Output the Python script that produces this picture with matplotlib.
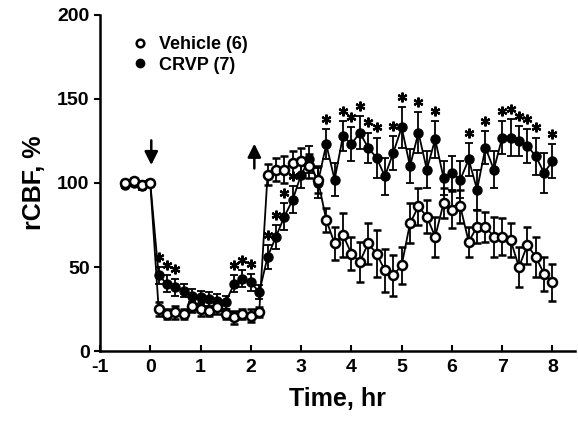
import numpy as np
import matplotlib.pyplot as plt
from matplotlib.lines import Line2D

plt.rcParams['font.family'] = ['Liberation Sans', 'DejaVu Sans']
plt.rcParams['font.weight'] = 'bold'
plt.rcParams['axes.unicode_minus'] = False

# time points, every 10 min from -0.5 to 8 hr
time = np.arange(-3, 49) / 6.0

vehicle = [100, 101, 99, 100,
           25, 22, 23, 22, 27, 25, 24, 26, 22, 20, 22, 21, 23,
           105, 108, 108, 112, 113, 110, 102, 78, 64, 69, 58, 53, 64, 58,
           48, 45, 51, 76, 86, 80, 68, 88, 84, 86, 65, 74, 74, 68, 68, 66,
           50, 63, 56, 46, 41]
vehicle_err = [2, 2, 2, 2,
               4, 3, 4, 3, 4, 4, 3, 4, 3, 4, 3, 4, 3,
               6, 7, 8, 7, 8, 7, 8,
               7, 10, 13, 10, 12, 12, 14, 13, 12, 11, 12, 11, 10, 12, 9, 11,
               10, 9, 10, 9, 12, 11, 10, 12, 11, 12, 10, 11]

crvp = [99, 100, 98, 100,
        45, 40, 38, 36, 33, 32, 31, 30, 29, 40, 43, 41, 35,
        56, 68, 80, 90, 105, 114, 100, 123, 102, 128, 123, 130, 121, 115,
        104, 118, 133, 110, 130, 108, 126, 103, 106, 102, 114, 96, 121, 108,
        127, 127, 125, 122, 116, 106, 113]
crvp_err = [2, 2, 2, 2,
            5, 5, 5, 4, 4, 4, 4, 4, 4, 5, 5, 5, 4,
            7, 7, 8, 8, 8, 8, 9,
            9, 10, 9, 10, 10, 9, 12, 11, 10, 12, 10, 12, 11, 11, 10, 10,
            11, 10, 12, 10, 11, 10, 11, 9, 10, 11, 12, 10]

# 1 = significant (asterisk above CRVP point)
sig = [0, 0, 0, 0,
       1, 1, 1, 0, 0, 0, 0, 0, 0, 1, 1, 1, 0,
       1, 1, 1, 1, 0, 0, 0,
       1, 0, 1, 1, 1, 1, 1, 0, 1, 1, 0, 1, 0, 1, 0, 0,
       0, 1, 0, 1, 0, 1, 1, 1, 1, 1, 0, 1]

crvp = np.array(crvp)
crvp_err = np.array(crvp_err)
sig = np.array(sig, dtype=bool)

fig = plt.figure(figsize=(5.78, 4.25), dpi=100)
ax = fig.add_axes([0.173, 0.174, 0.822, 0.791])

ax.errorbar(time, crvp, yerr=crvp_err, color='k', marker='o', ms=6.5,
            mfc='k', mec='k', lw=1.3, elinewidth=1.3, capsize=3, capthick=1.3,
            zorder=2)
ax.errorbar(time, vehicle, yerr=vehicle_err, color='k', marker='o', ms=6.5,
            mfc='white', mec='k', mew=1.8, lw=1.3, elinewidth=1.3, capsize=3,
            capthick=1.3, zorder=3)
ax.plot(time[sig], (crvp + crvp_err + 6)[sig], ls='none', marker=(6, 2, 0),
        ms=7, mew=1.6, color='k', zorder=4)

# occlusion / reperfusion arrows
ax.annotate('', xy=(0.02, 109), xytext=(0.02, 127),
            arrowprops=dict(arrowstyle='-|>', color='k', lw=1.8, mutation_scale=20))
ax.annotate('', xy=(2.07, 125), xytext=(2.07, 107),
            arrowprops=dict(arrowstyle='-|>', color='k', lw=1.8, mutation_scale=20))

ax.set_xlim(-1, 8.45)
ax.set_ylim(0, 200)
ax.set_xticks(range(-1, 9))
ax.set_yticks([0, 50, 100, 150, 200])
ax.spines['top'].set_visible(False)
ax.spines['right'].set_visible(False)
ax.spines['left'].set_linewidth(1.8)
ax.spines['bottom'].set_linewidth(1.8)
ax.tick_params(axis='x', direction='in', length=4, width=1.5, labelsize=14, pad=6)
ax.tick_params(axis='y', direction='out', length=4, width=1.5, labelsize=14)
for lab in ax.get_xticklabels() + ax.get_yticklabels():
    lab.set_fontweight('bold')

ax.set_xlabel('Time, hr', fontsize=18, fontweight='bold', labelpad=8)
ax.set_ylabel('rCBF, %', fontsize=18, fontweight='bold', labelpad=8)

handles = [Line2D([], [], ls='none', marker='o', ms=5.5, mfc='white', mec='k', mew=1.8),
           Line2D([], [], ls='none', marker='o', ms=6, mfc='k', mec='k')]
ax.legend(handles, ['Vehicle (6)', 'CRVP (7)'], loc='upper left',
          bbox_to_anchor=(0.03, 0.985), frameon=False, handlelength=1.0,
          handletextpad=0.6, labelspacing=0.2,
          prop={'weight': 'bold', 'size': 13})

plt.savefig('out.png', dpi=100)
